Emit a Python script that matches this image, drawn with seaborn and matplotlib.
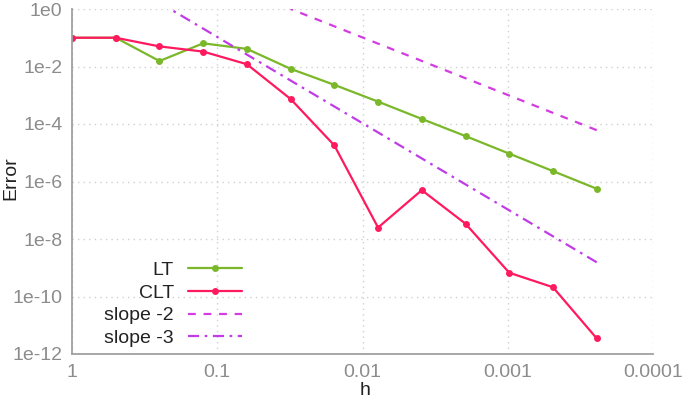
import numpy as np
import pandas as pd
import seaborn as sns
import matplotlib
matplotlib.use("Agg")
import matplotlib.pyplot as plt
from matplotlib.ticker import FixedLocator, FixedFormatter, LogLocator, NullFormatter

# 网格步长 h = 1, 1/2, 1/4, ... 1/4096
h = [1.0, 0.5, 0.25, 0.125, 0.0625, 0.03125, 0.015625, 0.0078125,
     0.00390625, 0.001953125, 0.0009765625, 0.00048828125, 0.000244140625]

# 误差
err_lt = [0.1, 0.1, 0.0155, 0.064, 0.041, 0.0083, 0.0023, 6.0e-4,
          1.5e-4, 3.8e-5, 9.3e-6, 2.3e-6, 5.6e-7]
err_clt = [0.1, 0.1, 0.05, 0.033, 0.012, 7.4e-4, 1.8e-5, 2.5e-8,
           5.0e-7, 3.4e-8, 6.7e-10, 2.1e-10, 3.5e-12]

# 参考斜率线端点
slope2_h = [0.03125, 0.000244140625]
slope2_err = [1.0, 6.1e-5]
slope3_h = [0.211, 0.000244140625]
slope3_err = [1.0, 1.55e-9]

xtick_vals = [1, 0.1, 0.01, 0.001, 0.0001]
xtick_labels = ["1", "0.1", "0.01", "0.001", "0.0001"]
ytick_vals = [1e0, 1e-2, 1e-4, 1e-6, 1e-8, 1e-10, 1e-12]
ytick_labels = ["1e0", "1e-2", "1e-4", "1e-6", "1e-8", "1e-10", "1e-12"]
yminor_vals = [1e-1, 1e-3, 1e-5, 1e-7, 1e-9, 1e-11]

sns.set_theme(style="white")
plt.rcParams["font.family"] = ["Liberation Sans", "DejaVu Sans"]

green = "#7ab829"
red = "#ff1a5f"
violet2 = "#d23ce0"
violet3 = "#c03ce6"

fig = plt.figure(figsize=(6.87, 3.99), dpi=100)
ax = fig.add_axes([72 / 687, 1 - 354 / 399, 581 / 687, 345 / 399])

df = pd.DataFrame({"h": h, "LT": err_lt, "CLT": err_clt})

sns.lineplot(data=df, x="h", y="LT", ax=ax, color=green, lw=1.6,
             marker="o", markersize=5, markeredgewidth=0, label="LT")
sns.lineplot(data=df, x="h", y="CLT", ax=ax, color=red, lw=1.6,
             marker="o", markersize=5, markeredgewidth=0, label="CLT")
sns.lineplot(x=slope2_h, y=slope2_err, ax=ax, color=violet2, lw=1.6,
             linestyle=(0, (3.5, 3.5)), label="slope -2")
sns.lineplot(x=slope3_h, y=slope3_err, ax=ax, color=violet3, lw=1.6,
             linestyle=(0, (5, 2.5, 1.2, 2.5)), label="slope -3")

ax.set_xscale("log")
ax.set_yscale("log")
ax.set_xlim(1, 1e-4)
ax.set_ylim(1e-12, 1e0)

ax.xaxis.set_major_locator(FixedLocator(xtick_vals))
ax.xaxis.set_major_formatter(FixedFormatter(xtick_labels))
ax.xaxis.set_minor_locator(LogLocator(base=10, subs=np.arange(2, 10)))
ax.xaxis.set_minor_formatter(NullFormatter())
ax.yaxis.set_major_locator(FixedLocator(ytick_vals))
ax.yaxis.set_major_formatter(FixedFormatter(ytick_labels))
ax.yaxis.set_minor_locator(FixedLocator(yminor_vals))
ax.yaxis.set_minor_formatter(NullFormatter())

ax.tick_params(which="major", direction="in", length=6, width=1, color="#999999",
               labelsize=14, labelcolor="#8c8c8c", pad=7)
ax.tick_params(which="minor", direction="in", length=3, width=1, color="#999999")

ax.grid(True, which="major", color="#d0d0d0", linestyle=(0, (1, 3)), lw=1)
for s in ["top", "right"]:
    ax.spines[s].set_visible(False)
for s in ["left", "bottom"]:
    ax.spines[s].set_color("#a0a0a0")
    ax.spines[s].set_linewidth(1.3)

ax.set_xlabel("h", fontsize=14, color="#222222")
ax.set_ylabel("Error", fontsize=14, color="#222222")
ax.xaxis.set_label_coords(0.504, -0.082)
ax.yaxis.set_label_coords(-0.09, 0.51)

leg = ax.legend(loc="lower right", bbox_to_anchor=((242 - 72) / 581, 0.02),
                frameon=False, markerfirst=False, fontsize=14, handlelength=2.8,
                handletextpad=0.7, labelspacing=0.26, borderpad=0, borderaxespad=0)
for t in leg.get_texts():
    t.set_color("#222222")

fig.savefig("out.png", dpi=100)
